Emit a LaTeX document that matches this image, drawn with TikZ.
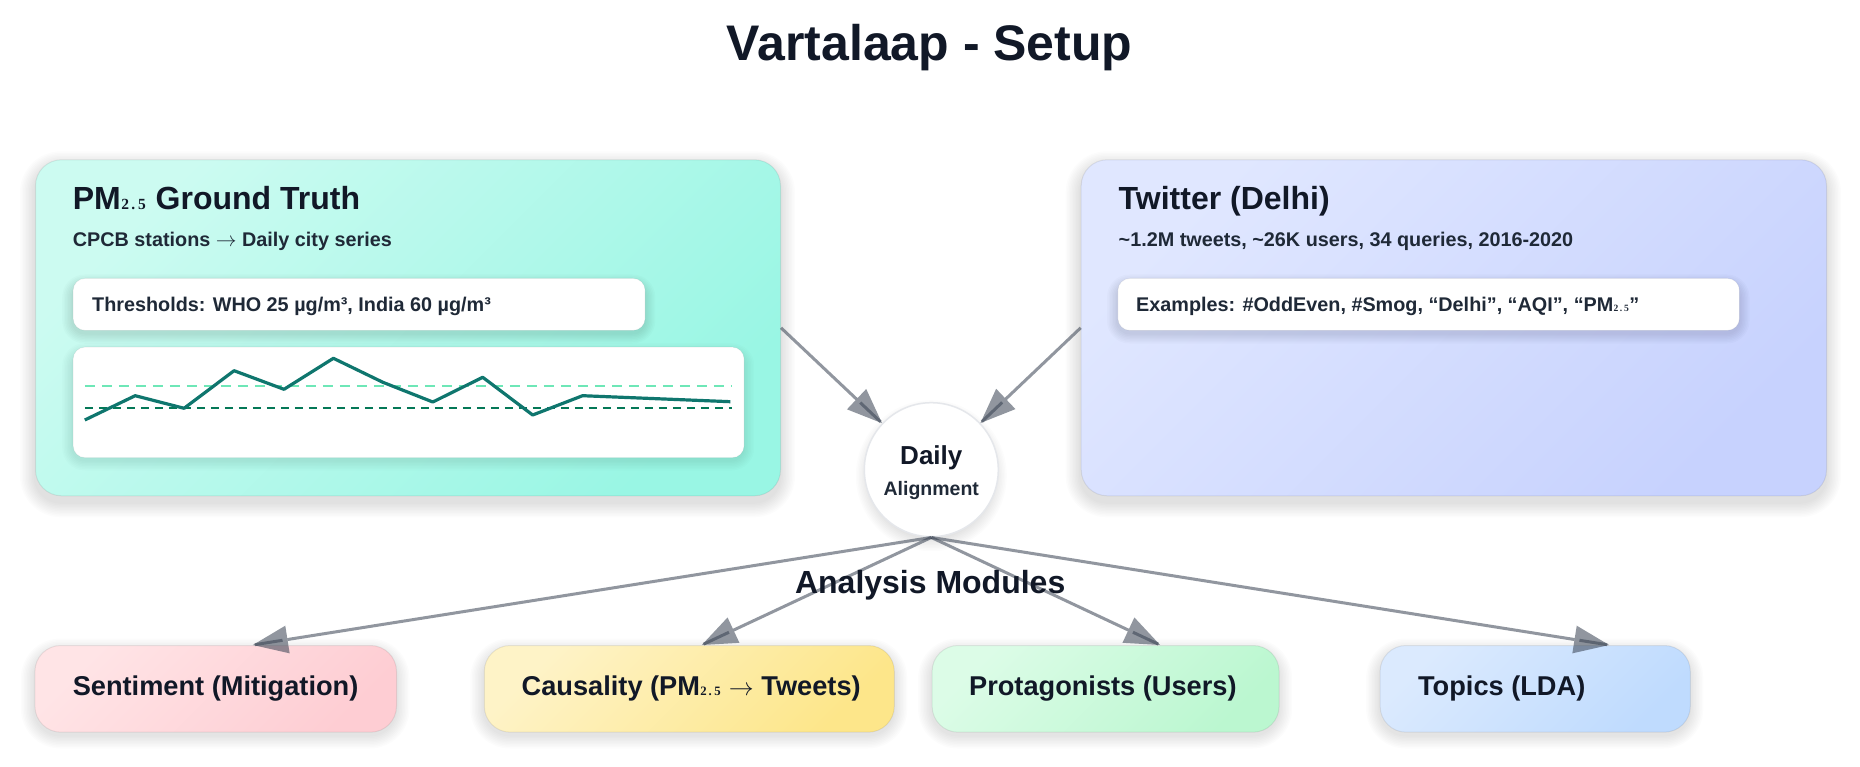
\documentclass[tikz,border=0pt]{standalone}
\usepackage{fontspec}
\setmainfont{Liberation Sans}
\newfontfamily\serifsub{Liberation Serif}
\usetikzlibrary{arrows.meta,calc,decorations.markings}

\definecolor{ink}{HTML}{111827}
\definecolor{ink2}{HTML}{1F2937}
\definecolor{conncol}{HTML}{374151}
\definecolor{pmA}{HTML}{CCFBF1}
\definecolor{pmB}{HTML}{99F6E4}
\definecolor{twA}{HTML}{E0E7FF}
\definecolor{twB}{HTML}{C7D2FE}
\definecolor{roseA}{HTML}{FFE4E6}
\definecolor{roseB}{HTML}{FECDD3}
\definecolor{ambA}{HTML}{FEF3C7}
\definecolor{ambB}{HTML}{FDE68A}
\definecolor{grnA}{HTML}{DCFCE7}
\definecolor{grnB}{HTML}{BBF7D0}
\definecolor{bluA}{HTML}{DBEAFE}
\definecolor{bluB}{HTML}{BFDBFE}
\definecolor{series}{HTML}{0F766E}
\definecolor{dashlight}{HTML}{6EE7B7}
\definecolor{dashdark}{HTML}{047857}
\definecolor{circborder}{HTML}{E5E7EB}

% subscript 2.5 drawn small in a serif face; #1 = size in pt
\newcommand\pmsub[1]{{\serifsub\bfseries\fontsize{#1}{#1}\selectfont\kern0.03em 2\kern0.14em.\kern0.2em 5\kern0.05em}}
\newcommand\rarr{\ensuremath{\rightarrow}}

% soft drop shadow: x1 y1 x2 y2 radius steps opacity
\newcommand\softshadow[7]{%
  \foreach \s in {1,...,#6}{%
    \fill[black, opacity=#7, rounded corners={(#5+1.5*\s)*1pt}]
      ({#1-1.5*\s},{#2-1.5*\s+7}) rectangle ({#3+1.5*\s},{#4+1.5*\s+7});
  }}
\newcommand\softcircleshadow[5]{% cx cy r steps opacity
  \foreach \s in {1,...,#4}{%
    \fill[black, opacity=#5] (#1,{#2+6}) circle[radius={(#3+1.5*\s)*1pt}];
  }}

\tikzset{
  bigbox/.style={draw=black, draw opacity=0.07, line width=1pt, rounded corners=26pt,
    anchor=north west, inner sep=0pt, shading angle=45},
  whitebox/.style={fill=white, draw=black, draw opacity=0.05, line width=0.8pt, rounded corners=12pt,
    anchor=north west, inner sep=0pt},
  modbox/.style={draw=black, draw opacity=0.07, line width=1pt, rounded corners=26pt,
    anchor=north west, inner sep=0pt, minimum height=86.7pt, shading angle=45},
  headtxt/.style={anchor=base west, inner sep=0pt, text=ink, font=\bfseries\fontsize{32}{38}\selectfont},
  subtxt/.style={anchor=base west, inner sep=0pt, text=ink2, font=\bfseries\fontsize{19.8}{24}\selectfont},
  boxtxt/.style={anchor=base west, inner sep=0pt, text=ink2, font=\bfseries\fontsize{19.8}{24}\selectfont},
  modtxt/.style={anchor=base west, inner sep=0pt, text=ink, font=\bfseries\fontsize{27.2}{32}\selectfont},
  conn/.style={draw=conncol, line width=3pt, opacity=0.55,
    -{Triangle[length=35pt,width=28pt,line width=0pt]},
    postaction={decorate, decoration={markings, mark=at position 1 with
      {\draw[-, conncol, line width=3pt, opacity=0.55] (-30pt,0) -- (-2pt,0);}}}},
}

\begin{document}
\begin{tikzpicture}[x=1pt,y=-1pt]
\useasboundingbox (0,0) rectangle (1860,767);
\fill[white] (0,0) rectangle (1860,767);

% title
\node[anchor=base, inner sep=0pt, text=ink, font=\bfseries\fontsize{50}{60}\selectfont] (title) at (929.7,60.7) {Vartalaap - Setup};

% PM2.5 box
\softshadow{35}{159.3}{780}{495.3}{26}{10}{0.011}
\node[bigbox, top color=pmA, bottom color=pmB, shading angle=45, minimum width=745pt, minimum height=336pt] (pm) at (35,159.3) {};
\node[headtxt] (pmhead) at (72.7,209.3) {PM\pmsub{15.5} Ground Truth};
\node[subtxt] (pmsubt) at (72.7,246.7) {CPCB stations \rarr{} Daily city series};
\softshadow{72.7}{278}{644.7}{326}{12}{7}{0.014}
\node[whitebox, minimum width=572pt, minimum height=52pt] (thr) at (72.7,278) {};
\node[boxtxt] (thrtxt) at (92,311.7) {Thresholds: WHO 25 µg/m³, India 60 µg/m³};
\softshadow{72.7}{346.7}{743.7}{453}{12}{7}{0.012}
\node[whitebox, minimum width=671pt, minimum height=110.6pt] (chart) at (72.7,346.7) {};
\draw[dashlight, line width=2pt, dash pattern=on 10pt off 7pt] (84.8,385.7) -- (732,385.7);
\draw[dashdark, line width=1.5pt, dash pattern=on 8pt off 6pt] (84.8,408) -- (732,408);
\draw[series, line width=3.2pt, line join=round] (84.8,420) -- (135.2,395.7) -- (184.1,408.3) -- (234.1,370.7) -- (284,389.3) -- (333.4,358.3) -- (382.9,382.3) -- (432.8,402) -- (482.7,377.3) -- (532.7,415) -- (582.6,395.7) -- (730.4,401.7);

% Twitter box
\softshadow{1080.7}{159.3}{1826}{495.3}{26}{10}{0.011}
\node[bigbox, top color=twA, bottom color=twB, shading angle=45, minimum width=745.3pt, minimum height=336pt] (tw) at (1080.7,159.3) {};
\node[headtxt] (twhead) at (1118.5,210) {Twitter (Delhi)};
\node[subtxt] (twsubt) at (1118.5,246.7) {\textasciitilde 1.2M tweets, \textasciitilde 26K users, 34 queries, 2016-2020};
\softshadow{1117.5}{278}{1739}{326}{12}{7}{0.014}
\node[whitebox, minimum width=621.5pt, minimum height=52pt] (ex) at (1117.5,278) {};
\node[boxtxt] (extxt) at (1136,311.5) {Examples: \#OddEven, \#Smog, “Delhi”, “AQI”, “PM\pmsub{9.6}”};

% Daily alignment circle
\softcircleshadow{931.3}{469.7}{62}{9}{0.012}
\node[circle, draw=circborder, line width=1.5pt, fill=white, minimum size=134pt, inner sep=0pt] (daily) at (931.3,469.7) {};
\node[anchor=base, inner sep=0pt, text=ink, font=\bfseries\fontsize{26}{30}\selectfont] (dailytxt) at (931.3,464) {Daily};
\node[anchor=base, inner sep=0pt, text=ink2, font=\bfseries\fontsize{19.5}{22}\selectfont] (aligntxt) at (931.3,495.5) {Alignment};

% module boxes
\softshadow{34.4}{645}{396}{728}{26}{9}{0.011}
\softshadow{483.8}{645}{893.8}{728}{26}{9}{0.011}
\softshadow{931.6}{645}{1278.6}{728}{26}{9}{0.011}
\softshadow{1379.6}{645}{1689.8}{728}{26}{9}{0.011}
\node[modbox, left color=roseA, right color=roseB, shading angle=45, minimum width=361.6pt] (sent) at (34.4,645) {};
\node[modbox, left color=ambA, right color=ambB, shading angle=45, minimum width=410pt] (caus) at (483.8,645) {};
\node[modbox, left color=grnA, right color=grnB, shading angle=45, minimum width=347pt] (prot) at (931.6,645) {};
\node[modbox, left color=bluA, right color=bluB, shading angle=45, minimum width=310.2pt] (topic) at (1379.6,645) {};
\node[modtxt] (senttxt) at (72.6,695) {Sentiment (Mitigation)};
\node[modtxt] (caustxt) at (521.5,695) {Causality (PM\pmsub{12.8} \rarr{} Tweets)};
\node[modtxt] (prottxt) at (968.9,695) {Protagonists (Users)};
\node[modtxt] (topictxt) at (1417.9,695) {Topics (LDA)};

% connectors
\draw[conn] (pm.east) -- (daily);
\draw[conn] (tw.west) -- (daily);
\draw[conn] (daily.south) -- ([xshift=218.5pt]sent.north west);
\draw[conn] (daily.south) -- ([xshift=218pt]caus.north west);
\draw[conn] (daily.south) -- ([xshift=228.5pt]prot.north west);
\draw[conn] (daily.south) -- ([xshift=229.5pt]topic.north west);

\node[anchor=base, inner sep=0pt, text=ink, font=\bfseries\fontsize{32}{38}\selectfont] (modules) at (930.2,593.3) {Analysis Modules};
\end{tikzpicture}
\end{document}
